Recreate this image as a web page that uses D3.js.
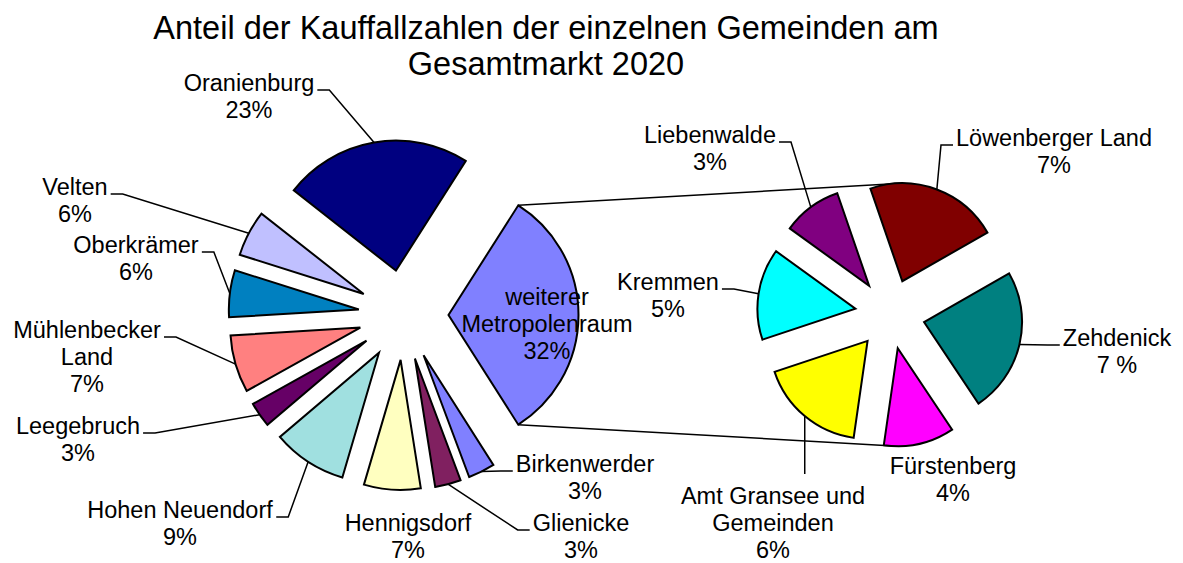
<!DOCTYPE html>
<html>
<head>
<meta charset="utf-8">
<script src="https://cdn.jsdelivr.net/npm/d3@7/dist/d3.min.js"></script>
<style>
  body { margin: 0; background: #fff; }
  text { font-family: "Liberation Sans", Arial, sans-serif; fill: #000; }
</style>
</head>
<body>
<div id="chart"></div>
<script>
// --- data ---------------------------------------------------------------
const titleLines = ['Anteil der Kauffallzahlen der einzelnen Gemeinden am', 'Gesamtmarkt 2020'];

// main pie, clockwise starting with the "other" slice
const mainNames = ['weiterer\nMetropolenraum', 'Birkenwerder', 'Glienicke', 'Hennigsdorf', 'Hohen Neuendorf',
  'Leegebruch', 'Mühlenbecker\nLand', 'Oberkrämer', 'Velten', 'Oranienburg'];
const mainValues = [31.8, 3.3, 3.2, 7.0, 9.2, 3.1, 7.1, 5.8, 5.7, 23.3];
const mainPct = ['32%', '3%', '3%', '7%', '9%', '3%', '7%', '6%', '6%', '23%'];
const mainColors = ['#8080FF', '#8080FF', '#802060', '#FFFFC0', '#A0E0E0',
  '#660066', '#FF8080', '#0080C0', '#C0C0FF', '#000080'];

// secondary pie (breakdown of "weiterer Metropolenraum"), clockwise from top
const subNames = ['Löwenberger Land', 'Zehdenick', 'Fürstenberg', 'Amt Gransee und\nGemeinden', 'Kremmen', 'Liebenwalde'];
const subValues = [7.0, 7.6, 3.7, 5.6, 4.8, 3.1];
const subPct = ['7%', '7 %', '4%', '6%', '5%', '3%'];
const subColors = ['#800000', '#008080', '#FF00FF', '#FFFF00', '#00FFFF', '#800080'];

// label placement (x, y of first line centre, side of leader)
const mainLabelPos = [[547, 297, 'none'], [585, 464, 'right'], [581, 523, 'right'], [408, 523, 'none'],
  [180, 510, 'left'], [78, 426, 'left'], [87, 330, 'left'], [136, 245, 'left'], [75, 187, 'left'], [249, 83, 'left']];
const subLabelPos = [[1054, 138, 'right'], [1117, 338, 'right'], [953, 466, 'none'],
  [773, 496, 'top'], [668, 282, 'left'], [710, 135, 'left']];

// --- layout -------------------------------------------------------------
const width = 1183, height = 563;
const fontSize = 23.5, lineH = 27;
const main = { cx: 403.5, cy: 315, r: 130, explode: 45 };
const sub = { cx: 890, cy: 314, r: 98, explode: 35 };

const svg = d3.select('#chart').append('svg')
  .attr('width', width)
  .attr('height', height);

// title
svg.append('g').selectAll('text')
  .data(titleLines)
  .enter()
  .append('text')
  .attr('x', 546)
  .attr('y', (d, i) => 27 + i * 36 + 32.5 * 0.36)
  .attr('text-anchor', 'middle')
  .style('font-size', '32.5px')
  .text(d => d);

const total = d3.sum(mainValues);
const otherHalf = mainValues[0] / total * Math.PI;

const mainPie = d3.pie().sort(null).value(d => d)
  .startAngle(Math.PI / 2 - otherHalf)
  .endAngle(Math.PI / 2 - otherHalf + 2 * Math.PI);
const subStart = -19 * Math.PI / 180;
const subPie = d3.pie().sort(null).value(d => d)
  .startAngle(subStart)
  .endAngle(subStart + 2 * Math.PI);

const mainArcs = mainPie(mainValues);
const subArcs = subPie(subValues);

const mainColor = d3.scaleOrdinal(mainNames, mainColors);
const subColor = d3.scaleOrdinal(subNames, subColors);

function offset(d, e) {
  const mid = (d.startAngle + d.endAngle) / 2;
  return [Math.sin(mid) * e, -Math.cos(mid) * e];
}
function polar(o, r, a) {
  return [o[0] + Math.sin(a) * r, o[1] - Math.cos(a) * r];
}

// connector lines between the two pies
const otherArc = mainArcs[0];
const otherOff = offset(otherArc, main.explode);
const topStart = polar(otherOff, main.r, otherArc.startAngle);
const botStart = polar(otherOff, main.r, otherArc.endAngle);
const norm = a => ((a % (2 * Math.PI)) + 2 * Math.PI) % (2 * Math.PI);
const containing = ang => subArcs.find(d => {
  const s = norm(d.startAngle), e = s + (d.endAngle - d.startAngle);
  return (ang >= s && ang <= e) || (ang + 2 * Math.PI >= s && ang + 2 * Math.PI <= e);
});
const topArc = containing(0), botArc = containing(Math.PI);
const topOff = offset(topArc, sub.explode), botOff = offset(botArc, sub.explode);

const connectors = [
  [[main.cx + topStart[0], main.cy + topStart[1]], [sub.cx + topOff[0], sub.cy + topOff[1] - sub.r]],
  [[main.cx + botStart[0], main.cy + botStart[1]], [sub.cx + botOff[0], sub.cy + botOff[1] + sub.r]]
];
svg.append('g').selectAll('line')
  .data(connectors)
  .enter()
  .append('line')
  .attr('x1', d => d[0][0]).attr('y1', d => d[0][1])
  .attr('x2', d => d[1][0]).attr('y2', d => d[1][1])
  .attr('stroke', '#000')
  .attr('stroke-width', 1.5);

// draws one exploded pie with its labels
function drawPie(cfg, arcs, names, pct, color, labelPos) {
  const g = svg.append('g').attr('transform', `translate(${cfg.cx},${cfg.cy})`);
  const arc = d3.arc().innerRadius(0).outerRadius(cfg.r);

  g.selectAll('path.slice')
    .data(arcs)
    .enter()
    .append('path')
    .attr('class', 'slice')
    .attr('transform', d => `translate(${offset(d, cfg.explode)})`)
    .attr('d', arc)
    .attr('fill', (d, i) => color(names[i]))
    .attr('stroke', '#000')
    .attr('stroke-width', 2)
    .attr('stroke-linejoin', 'miter');

  arcs.forEach((d, i) => {
    const [lx, ly, side] = labelPos[i];
    const lines = names[i].split('\n').concat([pct[i]]);
    const tg = svg.append('g');
    tg.selectAll('text')
      .data(lines)
      .enter()
      .append('text')
      .attr('x', lx)
      .attr('y', (t, k) => ly + k * lineH + fontSize * 0.33)
      .attr('text-anchor', 'middle')
      .style('font-size', fontSize + 'px')
      .text(t => t);

    if (side === 'none') return;
    const bb = tg.node().getBBox();
    const o = offset(d, cfg.explode);
    const mid = (d.startAngle + d.endAngle) / 2;
    const p = polar(o, cfg.r, mid);
    const px = cfg.cx + p[0], py = cfg.cy + p[1];
    let pts;
    if (side === 'left') {
      const ax = bb.x + bb.width + 3, ay = ly + 7;
      pts = [[px, py], [ax + 12, ay], [ax, ay]];
    } else if (side === 'right') {
      const ax = bb.x - 3, ay = ly + 7;
      pts = [[px, py], [ax - 12, ay], [ax, ay]];
    } else {
      pts = [[px, py], [px, ly - 22]];
    }
    svg.append('path')
      .attr('d', d3.line()(pts))
      .attr('fill', 'none')
      .attr('stroke', '#000')
      .attr('stroke-width', 1.5);
  });
}

drawPie(main, mainArcs, mainNames, mainPct, mainColor, mainLabelPos);
drawPie(sub, subArcs, subNames, subPct, subColor, subLabelPos);
</script>
</body>
</html>
